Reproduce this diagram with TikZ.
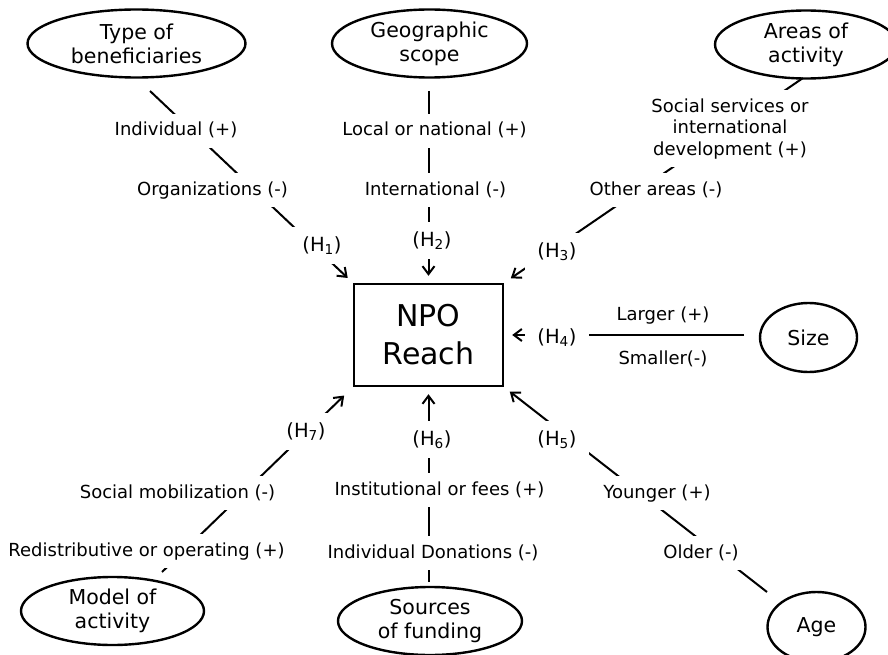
\documentclass[tikz,border=0pt]{standalone}
\usepackage{fontspec}
\setmainfont{DejaVu Sans}
\usetikzlibrary{shapes.geometric,arrows.meta,backgrounds}

\tikzset{
  factor/.style={draw, ellipse, line width=2.4pt, inner sep=0pt, align=center,
    font=\fontsize{20.5}{24}\selectfont},
  outcome/.style={draw, rectangle, line width=2.4pt, inner sep=0pt, align=center,
    minimum width=149pt, minimum height=102pt, font=\fontsize{30}{38}\selectfont},
  level/.style={fill=white, inner xsep=4pt, inner ysep=8.5pt, text height=13.5pt,
    text depth=3.5pt, anchor=base, font=\fontsize{18}{21.5}\selectfont},
  levels/.style={fill=white, inner xsep=4pt, inner ysep=8pt, align=center,
    font=\fontsize{18}{21.5}\selectfont},
  hyp/.style={level, inner xsep=12pt, inner ysep=9pt, text height=15pt, text depth=4pt,
    font=\fontsize{19.5}{23}\selectfont},
  spoke/.style={line width=2pt, -{Straight Barb[length=8pt,width=12pt,line width=2pt]}},
}

\begin{document}
\begin{tikzpicture}[x=1pt,y=-1pt]
\useasboundingbox (0,0) rectangle (888,655);

% central outcome
\node[outcome] (npo) at (428.5,335) {NPO\\Reach};

% explanatory factors
\node[factor, minimum width=218pt, minimum height=68pt] (type) at (136.5,43.5) {Type of\\beneficiaries};
\node[factor, minimum width=195pt, minimum height=68pt] (geo) at (429.5,43.5) {Geographic\\scope};
\node[factor, minimum width=182pt, minimum height=68pt] (areas) at (806,44.5) {Areas of\\activity};
\node[factor, minimum width=97pt, minimum height=69pt] (size) at (808.5,337.5) {Size};
\node[factor, minimum width=98pt, minimum height=70pt] (age) at (816.5,627) {Age};
\node[factor, minimum width=184pt, minimum height=68pt] (funding) at (430,621) {Sources\\of funding};
\node[factor, minimum width=183pt, minimum height=68pt] (model) at (112.5,611) {Model of\\activity};

% free ends of the spokes, just off each factor
\coordinate (s1) at (150,91);
\coordinate (s2) at (428.5,91);
\coordinate (s3) at (803,78);
\coordinate (s4) at (744,335);
\coordinate (s5) at (767,592);
\coordinate (s6) at (428.5,582);
\coordinate (s7) at (162,572);

% levels of each factor and hypothesis labels
\node[level] (l1a) at (176,136) {Individual (+)};
\node[level] (l1b) at (212.5,195) {Organizations (-)};
\node[hyp] (h1) at (322,251) {(H\textsubscript{1})};

\node[level] (l2a) at (434.5,136) {Local or national (+)};
\node[level] (l2b) at (435.5,195) {International (-)};
\node[hyp] (h2) at (432,246) {(H\textsubscript{2})};

\node[levels] (l3a) at (730,128.7) {Social services or\\international\\development (+)};
\node[level] (l3b) at (656,195) {Other areas (-)};
\node[hyp] (h3) at (557,257) {(H\textsubscript{3})};

\node[level] (l4a) at (663,320) {Larger (+)};
\node[level] (l4b) at (663,364) {Smaller(-)};
\node[hyp] (h4) at (557,343) {(H\textsubscript{4})};

\node[hyp] (h5) at (557,445) {(H\textsubscript{5})};
\node[level] (l5a) at (657,498) {Younger (+)};
\node[level] (l5b) at (701,558) {Older (-)};

\node[hyp] (h6) at (432,445) {(H\textsubscript{6})};
\node[level] (l6a) at (439.5,495) {Institutional or fees (+)};
\node[level] (l6b) at (433,558) {Individual Donations (-)};

\node[hyp] (h7) at (306,437) {(H\textsubscript{7})};
\node[level] (l7a) at (177.5,498) {Social mobilization (-)};
\node[level] (l7b) at (146.5,556) {Redistributive or operating (+)};

% spokes run under the labels, which break them
\begin{pgfonlayer}{background}
\draw[spoke, shorten >=7pt] (s1) -- (npo.north west);
\draw[spoke, shorten >=7pt] (s2) -- (npo.north);
\draw[spoke, shorten >=8pt] (s3) -- (npo.north east);
\draw[spoke, shorten >=8pt] (s4) -- (npo.east);
\draw[spoke, shorten >=7pt] (s5) -- (npo.south east);
\draw[spoke, shorten >=7pt] (s6) -- (npo.south);
\draw[spoke, shorten >=12pt] (s7) -- (npo.south west);
\end{pgfonlayer}
\end{tikzpicture}
\end{document}
